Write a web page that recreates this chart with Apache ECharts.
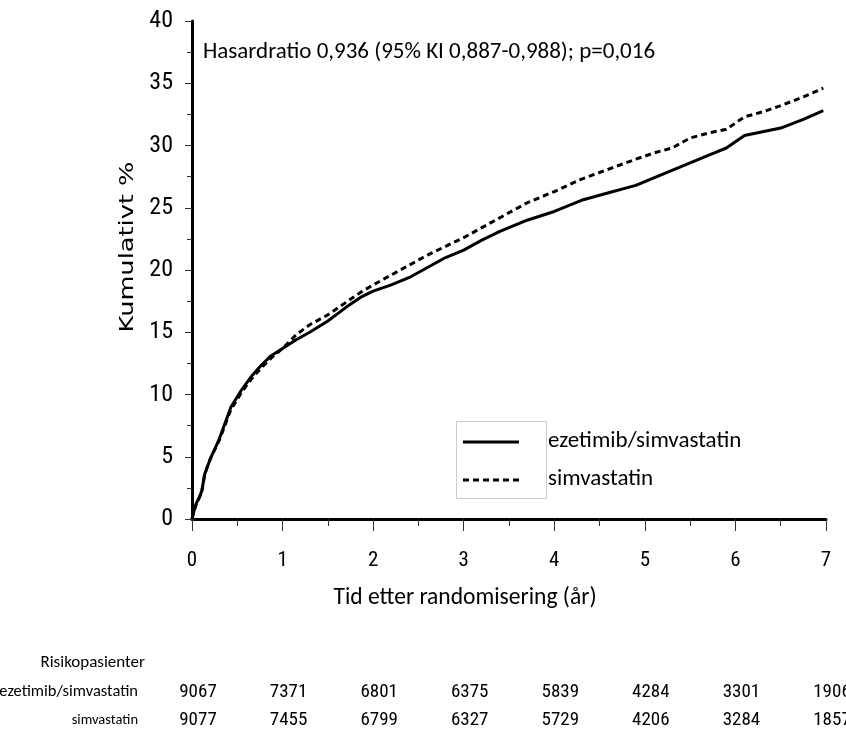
<!DOCTYPE html>
<html>
<head>
<meta charset="utf-8">
<script src="https://cdn.jsdelivr.net/npm/echarts@6/dist/echarts.min.js"></script>
<style>
  html, body { margin: 0; padding: 0; background: #fff; }
  #chart { width: 846px; height: 742px; }
</style>
</head>
<body>
<div id="chart"></div>
<script>
// tid i år
const years = [0, 0.02, 0.05, 0.08, 0.11, 0.14, 0.2, 0.3, 0.43, 0.55, 0.65, 0.76, 0.87, 1.0, 1.15, 1.3, 1.5, 1.7, 1.86, 2.0, 2.2, 2.4, 2.6, 2.8, 3.0, 3.2, 3.4, 3.7, 4.0, 4.3, 4.6, 4.9, 5.1, 5.3, 5.5, 5.7, 5.9, 6.1, 6.3, 6.5, 6.75, 6.97]
// kumulativ % per gruppe
const ezeSim = [0, 0.6, 1.3, 1.7, 2.3, 3.6, 4.8, 6.4, 9.0, 10.4, 11.4, 12.3, 13.1, 13.7, 14.4, 15.0, 15.9, 17.0, 17.8, 18.3, 18.8, 19.4, 20.2, 21.0, 21.6, 22.4, 23.1, 24.0, 24.7, 25.6, 26.2, 26.8, 27.4, 28.0, 28.6, 29.2, 29.8, 30.8, 31.1, 31.4, 32.1, 32.8]
const simOnly = [0, 0.6, 1.3, 1.7, 2.3, 3.6, 4.8, 6.3, 8.8, 10.2, 11.2, 12.1, 12.9, 13.7, 14.8, 15.6, 16.4, 17.4, 18.2, 18.8, 19.6, 20.4, 21.2, 21.9, 22.6, 23.4, 24.2, 25.4, 26.3, 27.3, 28.1, 28.9, 29.4, 29.8, 30.6, 31.0, 31.3, 32.3, 32.7, 33.2, 33.9, 34.6]
// risikopasienter
const riskYears = [0, 1, 2, 3, 4, 5, 6, 7]
const riskEzeSim = [9067, 7371, 6801, 6375, 5839, 4284, 3301, 1906]
const riskSim = [9077, 7455, 6799, 6327, 5729, 4206, 3284, 1857]
const seriesNames = ['ezetimib/simvastatin', 'simvastatin']

const narrow = '"Roboto Condensed", "Liberation Sans", sans-serif'
const textFont = 'Carlito, "Noto Sans", sans-serif'

const chart = echarts.init(document.getElementById('chart'))

const pairs = (xs, ys) => xs.map((x, i) => [x, ys[i]])

const option = {
  animation: false,
  backgroundColor: '#fff',
  grid: { left: 192, right: 20, top: 21, bottom: 223 },
  xAxis: {
    type: 'value', min: 0, max: 7, interval: 1,
    axisLine: { show: true, lineStyle: { color: '#000', width: 3 } },
    axisTick: { show: true, length: 12, lineStyle: { color: '#333', width: 1 } },
    minorTick: { show: true, splitNumber: 2, length: 7, lineStyle: { color: '#333', width: 1 } },
    splitLine: { show: false },
    axisLabel: { color: '#000', fontSize: 21, fontFamily: narrow, margin: 31 }
  },
  yAxis: {
    type: 'value', min: 0, max: 40, interval: 5,
    axisLine: { show: true, lineStyle: { color: '#000', width: 3 } },
    axisTick: { show: true, length: 7, lineStyle: { color: '#333', width: 1 } },
    minorTick: { show: true, splitNumber: 2, length: 5, lineStyle: { color: '#333', width: 1 } },
    splitLine: { show: false },
    axisLabel: { color: '#000', fontSize: 24, fontFamily: narrow, margin: 19 }
  },
  series: [
    {
      name: seriesNames[0], type: 'line', showSymbol: false,
      data: pairs(years, ezeSim),
      lineStyle: { color: '#000', width: 3 }
    },
    {
      name: seriesNames[1], type: 'line', showSymbol: false,
      data: pairs(years, simOnly),
      lineStyle: { color: '#000', width: 3, type: [6, 4] }
    }
  ]
}

chart.setOption(option)

// tekster, forklaring og tabell
const g = []
g.push({
  type: 'text', x: 203, y: 52,
  style: { text: 'Hasardratio 0,936 (95% KI 0,887-0,988); p=0,016', fontSize: 23, fontFamily: textFont, fill: '#000', verticalAlign: 'middle' }
})
// y-tittel, strukket som i originalen
g.push({
  type: 'text', x: 128, y: 247, rotation: Math.PI / 2, scaleX: 1.35,
  style: { text: 'Kumulativt %', fontSize: 19, fontFamily: '"DejaVu Sans", sans-serif', fill: '#000', align: 'center', verticalAlign: 'middle' }
})
g.push({
  type: 'text', x: 465, y: 598,
  style: { text: 'Tid etter randomisering (år)', fontSize: 23.5, fontFamily: textFont, fill: '#000', align: 'center', verticalAlign: 'middle' }
})
// forklaring
g.push({ type: 'rect', shape: { x: 456.5, y: 421.5, width: 90, height: 77 }, style: { fill: '#fff', stroke: '#ccc', lineWidth: 1 } })
g.push({ type: 'line', shape: { x1: 463, y1: 442, x2: 519, y2: 442 }, style: { stroke: '#000', lineWidth: 3 } })
g.push({ type: 'line', shape: { x1: 463, y1: 480, x2: 519, y2: 480 }, style: { stroke: '#000', lineWidth: 3, lineDash: [6, 4] } })
seriesNames.forEach((n, i) => {
  g.push({ type: 'text', x: 548, y: 441 + i * 38, style: { text: n, fontSize: 23, fontFamily: textFont, fill: '#000', verticalAlign: 'middle' } })
})
// risikotabell
g.push({ type: 'text', x: 145, y: 663, style: { text: 'Risikopasienter', fontSize: 17, fontFamily: textFont, fill: '#000', align: 'right', verticalAlign: 'middle' } })
const rows = [riskEzeSim, riskSim]
const rowY = [692, 720]
const labelSize = [16.5, 14.5]
seriesNames.forEach((n, r) => {
  g.push({ type: 'text', x: 138, y: rowY[r], style: { text: n, fontSize: labelSize[r], fontFamily: textFont, fill: '#000', align: 'right', verticalAlign: 'middle' } })
  riskYears.forEach((t, i) => {
    const px = chart.convertToPixel({ xAxisIndex: 0 }, t)
    g.push({ type: 'text', x: px + 6, y: rowY[r], style: { text: String(rows[r][i]), fontSize: 19, fontFamily: narrow, fill: '#000', align: 'center', verticalAlign: 'middle' } })
  })
})

chart.setOption({ graphic: g })
</script>
</body>
</html>
